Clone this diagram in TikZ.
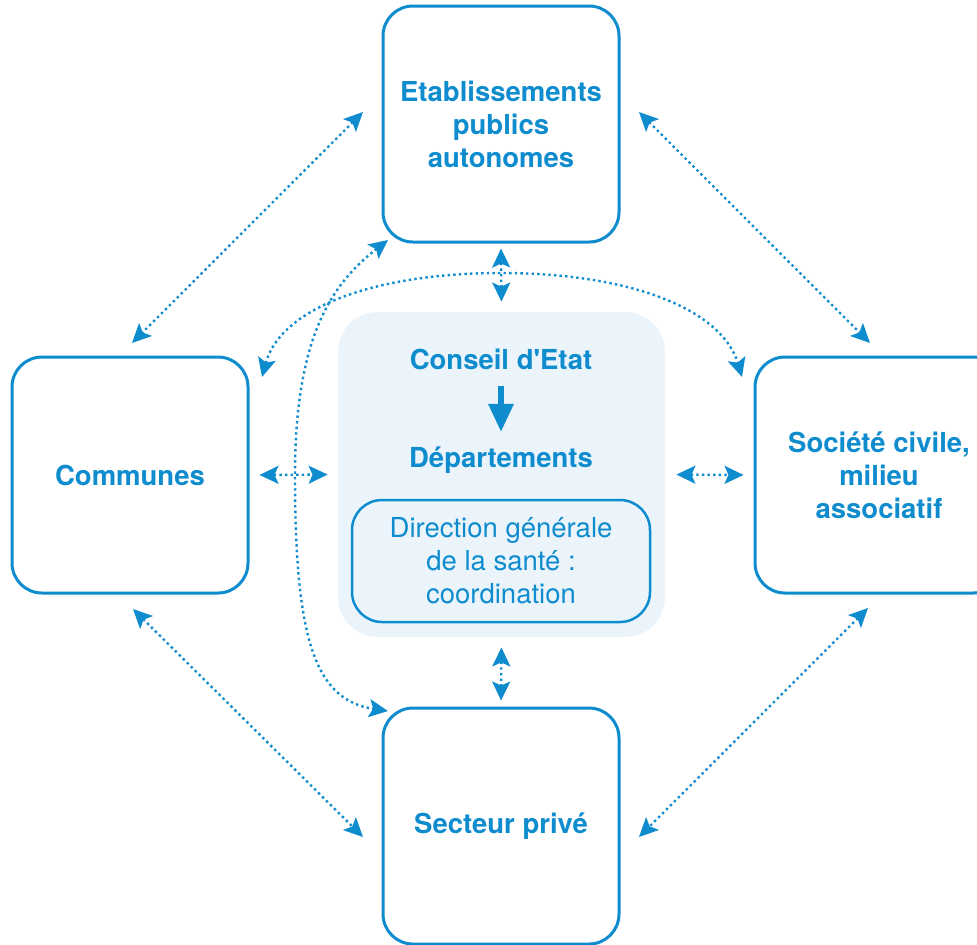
\documentclass[tikz,border=0pt]{standalone}
\usepackage{fontspec}
\setmainfont{TeX Gyre Heros}
\usetikzlibrary{arrows.meta}
\definecolor{dblue}{RGB}{14,140,206}
\definecolor{lightbg}{RGB}{235,244,251}
\begin{document}
\begin{tikzpicture}[x=0.5pt,y=-0.5pt,
  every node/.style={text=dblue},
  bigbox/.style={draw=dblue, line width=1.5pt, rounded corners=15pt,
    minimum width=118pt, minimum height=118pt, align=center, inner sep=0pt,
    font=\bfseries\fontsize{13.75}{16.5}\selectfont},
  corebox/.style={fill=lightbg, rounded corners=20pt, minimum width=163.5pt,
    minimum height=162.5pt, inner sep=0pt},
  innerbox/.style={draw=dblue, line width=1.25pt, rounded corners=15pt,
    minimum width=149pt, minimum height=61pt, inner sep=0pt, align=center,
    font=\fontsize{13.75}{16.5}\selectfont},
  title/.style={anchor=base, inner sep=0pt, font=\bfseries\fontsize{13.75}{16.5}\selectfont},
  link/.style={draw=dblue, line width=1.2pt, dash pattern=on 1.2pt off 1.6pt,
    >={Stealth[length=9.5pt,width=9pt,inset=2pt]}, <->},
  mainarrow/.style={draw=dblue, line width=3pt, -{Triangle[length=14pt,width=12pt]}}
]
\useasboundingbox (0,0) rectangle (977,944);

% central area
\node[corebox] (core) at (501.5,474.5) {};
\node[title] (cons) at (501,369) {Conseil d\textquotesingle Etat};
\node[title] (dep) at (501,467) {Départements};
\draw[mainarrow, shorten <=8pt, shorten >=7pt] (cons.south) -- (dep.north);
\node[innerbox] (dgs) at (501,561) {Direction générale\\de la santé :\\coordination};

% outer boxes
\node[bigbox] (etab) at (501,124) {Etablissements\\publics\\autonomes};
\node[bigbox] (comm) at (130,475) {Communes};
\node[bigbox, minimum width=124pt] (soc) at (879,475) {Société civile,\\milieu\\associatif};
\node[bigbox] (priv) at (501,826) {Secteur privé};

% free ends
\coordinate (tlA) at (363,112); \coordinate (tlB) at (132,343);
\coordinate (trA) at (639,112); \coordinate (trB) at (870,343);
\coordinate (blA) at (133,609); \coordinate (blB) at (363,837);
\coordinate (brA) at (868,608); \coordinate (brB) at (639,837);
\coordinate (bigL) at (262,377); \coordinate (bigR) at (742,377);
\coordinate (lcA) at (388,240); \coordinate (lcB) at (388,711);

% diagonal links
\draw[link] (tlA) -- (tlB);
\draw[link] (trA) -- (trB);
\draw[link] (blA) -- (blB);
\draw[link] (brA) -- (brB);

% straight links to the core
\draw[link, shorten <=2.5pt, shorten >=5pt] (etab.south) -- (core.north);
\draw[link, shorten <=5pt, shorten >=3pt] (core.south) -- (priv.north);
\draw[link, shorten <=5pt, shorten >=5pt] (comm.east) -- (core.west);
\draw[link, shorten <=5.5pt, shorten >=5pt] (core.east) -- (soc.west);

% curved links
\draw[link] (bigL) .. controls (280,310) and (370,273) .. (501,273)
  .. controls (632,273) and (722,310) .. (bigR);
\draw[link] (lcA) .. controls (330,285) and (295,340) .. (295,475)
  .. controls (295,640) and (315,700) .. (lcB);
\end{tikzpicture}
\end{document}
